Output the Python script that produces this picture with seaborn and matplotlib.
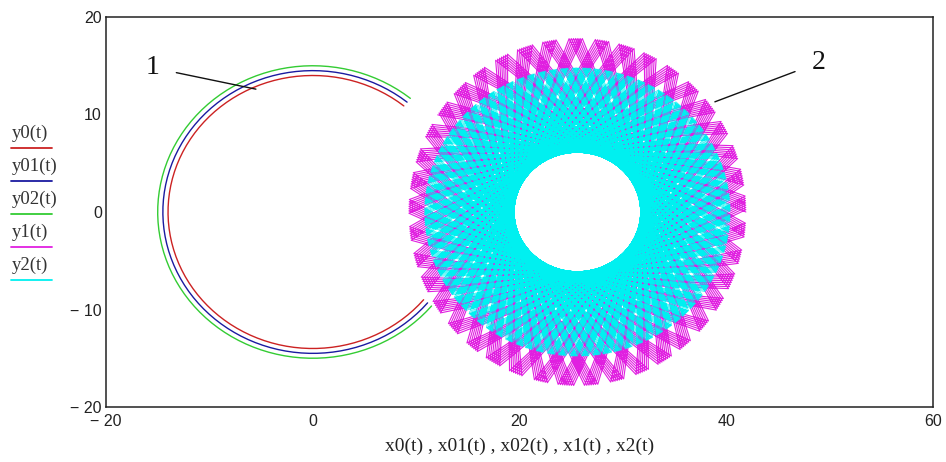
import numpy as np
import pandas as pd
import matplotlib
matplotlib.use("Agg")
import matplotlib.pyplot as plt
import seaborn as sns
from matplotlib.lines import Line2D

# ---------------- data ----------------
# curve 1: three concentric arcs around (0, 0)
arc_names = ["y0(t)", "y01(t)", "y02(t)"]
arc_radii = [14.0, 14.5, 15.0]
arc_colors = ["#cc2222", "#1a1aa0", "#33cc33"]
arc_start_deg = 51.0
arc_end_deg = 320.0
arc_points = 90

# curve 2: two chord patterns around (25.6, 0)
pattern_center = [25.6, 0.0]
y1_radii = [16.3, 17.8]          # x / y outer extent of magenta pattern
y1_teeth = [15, 41]              # step = 15/41 of a turn (41 teeth)
y1_points = 300
y1_drift_deg = 5.5
y2_radius = 14.8                 # outer extent of cyan pattern
y2_step_deg = 131.3              # gives the empty hole of radius ~6.1
y2_points = 520
pattern_colors = ["#e020e0", "#00f0f0"]

legend_names = ["y0(t)", "y01(t)", "y02(t)", "y1(t)", "y2(t)"]
legend_colors = arc_colors + pattern_colors

xticks = [-20, 0, 20, 40, 60]
xtick_labels = ["\u2212 20", "0", "20", "40", "60"]
yticks = [-20, -10, 0, 10, 20]
ytick_labels = ["\u2212 20", "\u2212 10", "0", "10", "20"]
xlabel = "x0(t) , x01(t) , x02(t) , x1(t) , x2(t)"

# ---------------- build curves ----------------
t_arc = np.deg2rad(np.linspace(arc_start_deg, arc_end_deg, arc_points))
arcs = []
for r in arc_radii:
    arcs.append(pd.DataFrame({"x": r * np.cos(t_arc), "y": r * np.sin(t_arc)}))

k1 = np.arange(y1_points)
eps = np.deg2rad(y1_drift_deg) / y1_points
th1 = k1 * (2 * np.pi * y1_teeth[0] / y1_teeth[1] + eps)
df_y1 = pd.DataFrame({"x": pattern_center[0] + y1_radii[0] * np.cos(th1),
                      "y": pattern_center[1] + y1_radii[1] * np.sin(th1)})

k2 = np.arange(y2_points)
th2 = k2 * np.deg2rad(y2_step_deg) + 0.3
df_y2 = pd.DataFrame({"x": pattern_center[0] + y2_radius * np.cos(th2),
                      "y": pattern_center[1] + y2_radius * np.sin(th2)})

# ---------------- plot ----------------
sns.set_style("white")
plt.rcParams["font.family"] = ["Liberation Sans", "DejaVu Sans"]

fig = plt.figure(figsize=(9.46, 4.62), dpi=100)
ax = fig.add_axes([106 / 946, 55 / 462, (933 - 106) / 946, (407 - 17) / 462])

for df, c in zip(arcs, arc_colors):
    sns.lineplot(data=df, x="x", y="y", sort=False, estimator=None,
                 color=c, linewidth=1.0, ax=ax, legend=False)
sns.lineplot(data=df_y1, x="x", y="y", sort=False, estimator=None,
             color=pattern_colors[0], linewidth=0.8, ax=ax, legend=False)
sns.lineplot(data=df_y2, x="x", y="y", sort=False, estimator=None,
             color=pattern_colors[1], linewidth=0.45, ax=ax, legend=False)

ax.set_xlim(-20, 60)
ax.set_ylim(-20, 20)
ax.set_xticks(xticks)
ax.set_xticklabels(xtick_labels)
ax.set_yticks(yticks)
ax.set_yticklabels(ytick_labels)
ax.tick_params(direction="in", length=7, width=1.0, colors="#222222",
               labelsize=11.5, labelcolor="#222222")
ax.tick_params(axis="x", pad=5)
ax.tick_params(axis="y", pad=3)
for s in ax.spines.values():
    s.set_visible(True)
    s.set_color("#222222")
    s.set_linewidth(1.1)
ax.set_xlabel(xlabel, family=["Liberation Serif"], fontsize=14,
              color="#222222", labelpad=6)
ax.set_ylabel("")

# annotation labels 1 and 2
ax.annotate("1", xy=(-5.5, 12.6), xytext=(-15.5, 14.8),
            fontsize=20, family=["Liberation Serif"], color="#111111",
            ha="center", va="center",
            arrowprops=dict(arrowstyle="-", color="#111111", lw=1.0,
                            shrinkA=10, shrinkB=0))
ax.annotate("2", xy=(38.9, 11.3), xytext=(48.9, 15.3),
            fontsize=20, family=["Liberation Serif"], color="#111111",
            ha="center", va="center",
            arrowprops=dict(arrowstyle="-", color="#111111", lw=1.0,
                            shrinkA=10, shrinkB=0))

# Mathcad-style legend at the left
y_text0 = 133
step = 33
for i, (name, c) in enumerate(zip(legend_names, legend_colors)):
    yt = y_text0 + i * step
    fig.text(12 / 946, 1 - yt / 462, name, family=["Liberation Serif"],
             fontsize=13.5, color="#333333", ha="left", va="center")
    yl = 1 - (yt + 15) / 462
    fig.add_artist(Line2D([11 / 946, 52 / 946], [yl, yl], color=c,
                          linewidth=1.3, transform=fig.transFigure))

fig.savefig("out.png", dpi=100)
